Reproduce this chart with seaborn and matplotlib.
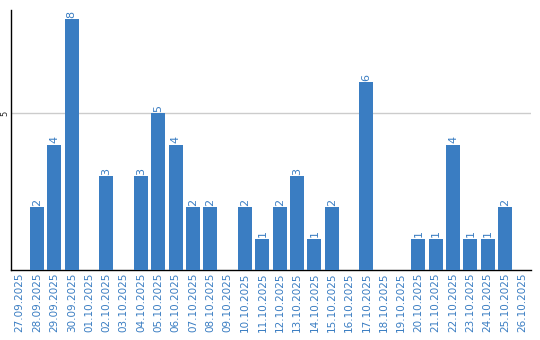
import matplotlib
matplotlib.use("Agg")
import matplotlib.pyplot as plt
import seaborn as sns
import pandas as pd

dates = ["27.09.2025", "28.09.2025", "29.09.2025", "30.09.2025", "01.10.2025",
         "02.10.2025", "03.10.2025", "04.10.2025", "05.10.2025", "06.10.2025",
         "07.10.2025", "08.10.2025", "09.10.2025", "10.10.2025", "11.10.2025",
         "12.10.2025", "13.10.2025", "14.10.2025", "15.10.2025", "16.10.2025",
         "17.10.2025", "18.10.2025", "19.10.2025", "20.10.2025", "21.10.2025",
         "22.10.2025", "23.10.2025", "24.10.2025", "25.10.2025", "26.10.2025"]
counts = [0, 2, 4, 8, 0, 3, 0, 3, 5, 4, 2, 2, 0, 2, 1, 2, 3, 1, 2, 0,
          6, 0, 0, 1, 1, 4, 1, 1, 2, 0]

df = pd.DataFrame({"date": dates, "count": counts})

sns.set_style("white")
plt.rcParams['font.family'] = ['DejaVu Sans']

bar_color = "#3a7dc2"
fig = plt.figure(figsize=(5.4, 3.4), dpi=100)
ax = fig.add_axes([11/540, 70/340, 520/540, 260/340])
sns.barplot(data=df, x="date", y="count", color=bar_color, saturation=1,
            width=0.8, linewidth=0, ax=ax, zorder=3)

ax.set_ylim(0, 8.3)
ax.set_xlim(-0.5, len(dates) - 0.5)
ax.set_yticks([5])
ax.set_yticklabels(["5"], rotation=90, va="center", fontsize=6)
ax.yaxis.grid(True, color="#cccccc", linewidth=1, zorder=0)
ax.set_axisbelow(True)
ax.tick_params(axis="y", length=0, pad=1)
ax.tick_params(axis="x", length=0, pad=2, labelsize=7.5, labelcolor=bar_color)
for lbl in ax.get_xticklabels():
    lbl.set_rotation(90)
ax.set_xlabel("")
ax.set_ylabel("")

for spine in ["top", "right"]:
    ax.spines[spine].set_visible(False)
for spine in ["left", "bottom"]:
    ax.spines[spine].set_color("black")
    ax.spines[spine].set_linewidth(1)

for i, v in enumerate(counts):
    if v > 0:
        ax.text(i, v + 0.04, str(v), rotation=90, ha="center", va="bottom",
                fontsize=8, color=bar_color)

fig.savefig("out.png", dpi=100)
